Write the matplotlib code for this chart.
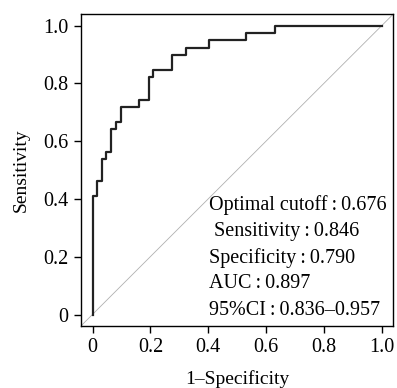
import matplotlib
matplotlib.use("Agg")
import matplotlib.pyplot as plt

# ROC curve (1-specificity, sensitivity)
fpr = [0.0, 0.0, 0.016, 0.032, 0.048, 0.065, 0.081, 0.097, 0.161, 0.194,
       0.210, 0.274, 0.323, 0.403, 0.532, 0.629, 1.0]
tpr = [0.0, 0.410, 0.462, 0.538, 0.564, 0.641, 0.667, 0.718, 0.744, 0.821,
       0.846, 0.897, 0.923, 0.949, 0.974, 1.0, 1.0]

xticks = [0, 0.2, 0.4, 0.6, 0.8, 1.0]
xticklabels = ["0", "0.2", "0.4", "0.6", "0.8", "1.0"]
yticks = [0, 0.2, 0.4, 0.6, 0.8, 1.0]
yticklabels = ["0", "0.2", "0.4", "0.6", "0.8", "1.0"]

info = ["Optimal cutoff\u2009:\u20090.676",
        " Sensitivity\u2009:\u20090.846",
        "Specificity\u2009:\u20090.790",
        "AUC\u2009:\u20090.897",
        "95%CI\u2009:\u20090.836\u20130.957"]

plt.rcParams["font.family"] = ["Liberation Serif", "DejaVu Serif"]

fig = plt.figure(figsize=(3.97, 3.88), dpi=100)
ax = fig.add_axes([0.204, 0.160, 0.787, 0.804])

ax.plot([0, 1], [0, 1], transform=ax.transAxes, color="#b0b0b0", lw=0.6)
ax.step(fpr, tpr, where="post", color="#222222", lw=1.6)

ax.set_xlim(-0.04, 1.04)
ax.set_ylim(-0.038, 1.04)
ax.set_xticks(xticks)
ax.set_xticklabels(xticklabels)
ax.set_yticks(yticks)
ax.set_yticklabels(yticklabels)
ax.tick_params(direction="out", length=5, width=1, labelsize=14.5, pad=4)
for s in ax.spines.values():
    s.set_linewidth(1.0)

ax.set_xlabel("1\u2013Specificity", fontsize=14, labelpad=9)
ax.set_ylabel("Sensitivity", fontsize=14, labelpad=10)

ys = [0.380, 0.288, 0.197, 0.107, 0.016]
for t, yy in zip(info, ys):
    ax.text(0.403, yy, t, fontsize=14.5, va="center", ha="left")

fig.savefig("out.png", dpi=100)
